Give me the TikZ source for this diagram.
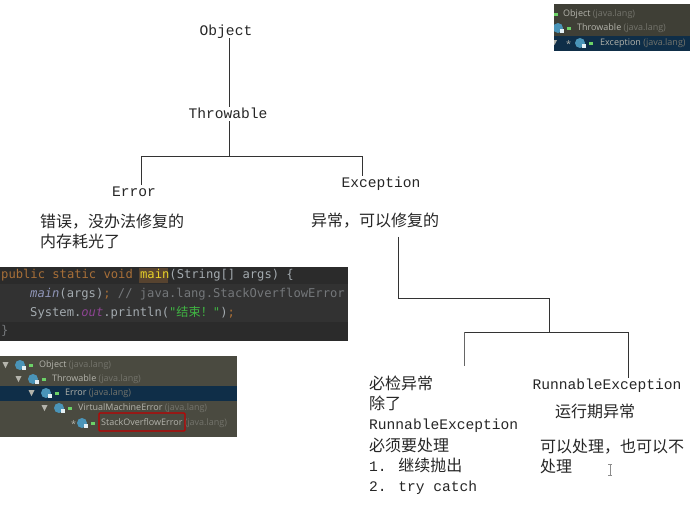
\documentclass[tikz,border=0pt]{standalone}
\usepackage{fontspec}
\setmainfont{Liberation Mono}
\newfontfamily\cjk{Noto Sans CJK SC}
\newfontfamily\codefont{DejaVu Sans Mono}
\newfontfamily\uifont{Open Sans}
\newcommand{\han}[1]{{\cjk\fontsize{16}{20}\selectfont #1}}
\definecolor{codebg}{HTML}{2B2B2B}
\definecolor{codeline}{HTML}{323232}
\definecolor{keyword}{HTML}{A86F38}
\definecolor{plain}{HTML}{A3AAAF}
\definecolor{comment}{HTML}{74777A}
\definecolor{treebg}{HTML}{4A4A40}
\definecolor{treesel}{HTML}{0F2E48}
\definecolor{treetxt}{HTML}{B4B4AC}
\definecolor{pkgtxt}{HTML}{74746C}
\definecolor{icon}{HTML}{4A94B8}
\tikzset{
	label/.style={inner sep=0pt,text height=11pt,text depth=3pt,font=\fontsize{14.6}{20}\selectfont,text=black!85},
	note/.style={inner sep=0pt,anchor=west,align=left,font=\fontsize{14.6}{20}\selectfont,text=black!85},
	wire/.style={line width=1pt,black!80},
	code/.style={inner sep=0pt,anchor=west,text=plain,font=\codefont\fontsize{12.15}{14}\selectfont},
	ui/.style={inner sep=0pt,anchor=west,text=treetxt,font=\uifont\fontsize{9}{11}\selectfont},
}
\begin{document}
\begin{tikzpicture}
[x=1pt,y=-1pt]
\useasboundingbox (0,0) rectangle (690,530);
\fill[white] (0,0) rectangle (690,530);
% class tree
\node[label] (object) at (226,31) {Object};
\node[label] (throwable) at (228,114) {Throwable};
\node[label] (error) at (134,192) {Error};
\node[label] (exception) at (381,183) {Exception};
\node[note] (errnote) at (40,231) {\han{错误，没办法修复的}\\\han{内存耗光了}};
\node[note] (excnote) at (311,221) {\han{异常，可以修复的}};
\coordinate (trunk) at (229,156);
\coordinate (barl) at (141,156);
\coordinate (barr) at (362,156);
\draw[wire] (trunk |- object.south) -- (trunk |- throwable.north);
\draw[wire] (trunk |- throwable.south) -- (trunk);
\draw[wire] (error.north -| barl) -- (barl) -- (barr) -- (barr |- exception.north);
% exception split
\coordinate (elbow) at (398,298);
\coordinate (split) at (549,298);
\coordinate (splitl) at (464,332);
\coordinate (splitr) at (628,332);
\node[note] (checked) at (369,435) {\han{必检异常}\\\han{除了}\\RunnableException\\[1.5pt]\han{必须要处理}\\1. \han{继续抛出}\\2. try catch};
\node[label] (runtime) at (607,385) {RunnableException};
\node[note] (runnote) at (555,411) {\han{运行期异常}};
\node[note] (mayhandle) at (540,456) {\han{可以处理，也可以不}\\\han{处理}};
\draw[wire] (elbow |- excnote.south) ++(0,8) -- (elbow) -- (split) -- (split |- splitl);
\draw[wire] (splitl) -- (splitr) -- (splitr |- runtime.north) ++(0,-20);
\draw[wire,black!60] (splitl) -- ++(0,34);
% text cursor
\draw[black!45,line width=0.8pt] (608,464) -- (612,464) (610,464) -- (610,475) (608,475) -- (612,475);
% code panel
\fill[codebg] (0,267) rectangle (348,341);
\fill[codeline] (0,284) rectangle (348,322);
\fill[keyword!35!codebg] (139,268) rectangle (168,283);
\node[code] (code1) at (1,275) {\textcolor{keyword}{public static void }\textcolor{yellow!70!keyword}{main}(String[] args) \{};
\node[code] (code2) at (30,294) {\textcolor{blue!12!plain}{\itshape main}(args)\textcolor{keyword}{;} \textcolor{comment}{// java.lang.StackOverflowError}};
\node[code] (code3) at (30,313) {System.\textcolor{violet!60!plain}{\itshape out}.println(\textcolor{green!45!comment}{"{\cjk 结束！}"})\textcolor{keyword}{;}};
\node[code] (code4) at (1,331) {\textcolor{comment}{\}}};
% hierarchy panel, lower left
\fill[treebg] (0,356) rectangle (237,437);
\fill[treesel] (0,386) rectangle (237,401);
\foreach \rowy/\rowx/\rowname/\rowicon [count=\i] in {365/39/Object/20,379/52/Throwable/33,393/65/Error/46,408/78/VirtualMachineError/59,423/101/StackOverflowError/82}{
	\fill[icon] (\rowicon,\rowy) circle (5pt);
	\fill[white!85!icon] (\rowicon+2,\rowy+1) rectangle ++(3.5,3.5);
	\fill[green!40!treetxt] (\rowicon+9,\rowy-1.5) rectangle ++(3.5,3.5);
	\node[ui] (low\i) at (\rowx,\rowy) {\rowname\ \textcolor{pkgtxt}{(java.lang)}};
	\ifnum\i<5
	\fill[treetxt] (\rowicon-17.5,\rowy-3) -- ++(6,0) -- ++(-3,6) -- cycle;
	\else\node[ui] (lowstar) at (\rowicon-11,\rowy+1) {*};\fi
	}
\draw[red!75!black,line width=1.2pt,rounded corners=1pt] (99,413) rectangle (185,431);
% hierarchy panel, top right
\fill[treebg!85!black] (554,4) rectangle (690,51);
\fill[treesel] (554,36) rectangle (690,51);
\clip (554,4) rectangle (690,51);
\foreach \rowy/\rowx/\rowname/\rowicon [count=\i] in {14/563/Object/545,28/577/Throwable/558,43/600/Exception/580}{
	\fill[icon] (\rowicon,\rowy) circle (5pt);
	\fill[white!85!icon] (\rowicon+2,\rowy+1) rectangle ++(3.5,3.5);
	\fill[green!40!treetxt] (\rowicon+9,\rowy-1.5) rectangle ++(3.5,3.5);
	\node[ui] (top\i) at (\rowx,\rowy) {\rowname\ \textcolor{pkgtxt}{(java.lang)}};
	}
\fill[treetxt] (552,40) -- ++(5,0) -- ++(-2.5,5) -- cycle;
\node[ui] (topstar) at (566,44) {*};
\end{tikzpicture}
\end{document}
